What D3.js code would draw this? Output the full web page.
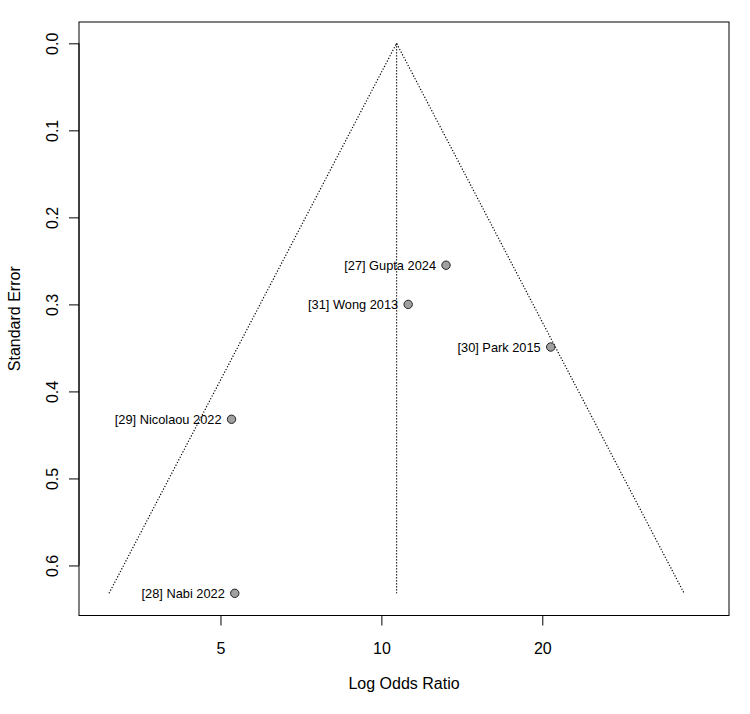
<!DOCTYPE html>
<html>
<head>
<meta charset="utf-8">
<script src="https://cdn.jsdelivr.net/npm/d3@7"></script>
<style>
  body { margin: 0; background: #fff; }
  text { font-family: "Liberation Sans", Arial, sans-serif; }
</style>
</head>
<body>
<div id="chart"></div>
<script>
// study labels, log odds ratios and standard errors
const studies = ["[27] Gupta 2024", "[31] Wong 2013", "[30] Park 2015", "[29] Nicolaou 2022", "[28] Nabi 2022"];
const logOR = [2.581, 2.418, 3.032, 1.657, 1.671];
const stdErr = [0.255, 0.300, 0.349, 0.432, 0.632];
const pooled = 2.368; // summary estimate (centre of funnel)

// axis ticks
const xTickOR = [5, 10, 20];
const yTicks = [0, 0.1, 0.2, 0.3, 0.4, 0.5, 0.6];

const width = 750, height = 714;
const box = { left: 79, right: 729, top: 22, bottom: 615.5 };

const svg = d3.select("#chart").append("svg")
  .attr("width", width)
  .attr("height", height);

const x = d3.scaleLinear().domain([1.0, 3.8]).range([box.left, box.right]);
const y = d3.scaleLinear().domain([-0.0245, 0.6575]).range([box.top, box.bottom]);

const maxSE = d3.max(stdErr);

// funnel lines (dotted)
const funnel = [
  [[pooled - 1.96 * maxSE, maxSE], [pooled, 0], [pooled + 1.96 * maxSE, maxSE]],
  [[pooled, 0], [pooled, maxSE]]
];
const line = d3.line().x(d => x(d[0])).y(d => y(d[1]));
svg.append("g").selectAll("path").data(funnel).join("path")
  .attr("d", line)
  .attr("fill", "none")
  .attr("stroke", "#000")
  .attr("stroke-width", 1.2)
  .attr("stroke-dasharray", "1.2,1.8");

// points
const pts = studies.map((s, i) => ({ label: s, yi: logOR[i], sei: stdErr[i] }));

svg.append("g").selectAll("circle").data(pts).join("circle")
  .attr("cx", d => x(d.yi))
  .attr("cy", d => y(d.sei))
  .attr("r", 4.2)
  .attr("fill", "#a0a0a0")
  .attr("stroke", "#222")
  .attr("stroke-width", 1);

svg.append("g").selectAll("text").data(pts).join("text")
  .attr("x", d => x(d.yi) - 10)
  .attr("y", d => y(d.sei))
  .attr("dy", "0.35em")
  .attr("text-anchor", "end")
  .attr("font-size", 12.8)
  .attr("fill", "#000")
  .text(d => d.label);

// x axis
const xAxis = svg.append("g")
  .attr("transform", `translate(0,${box.bottom})`)
  .call(d3.axisBottom(x)
    .tickValues(xTickOR.map(v => Math.log(v)))
    .tickFormat((d, i) => xTickOR[i])
    .tickSize(10)
    .tickSizeOuter(0));
xAxis.select(".domain").remove();
xAxis.selectAll("line").attr("stroke", "#000");
xAxis.selectAll("text")
  .attr("y", 38.5)
  .attr("dy", null)
  .attr("font-size", 16)
  .attr("font-family", "Liberation Sans, Arial, sans-serif")
  .attr("fill", "#000");

// y axis
const yAxis = svg.append("g")
  .attr("transform", `translate(${box.left},0)`)
  .call(d3.axisLeft(y)
    .tickValues(yTicks)
    .tickFormat(d3.format(".1f"))
    .tickSize(10)
    .tickSizeOuter(0));
yAxis.select(".domain").remove();
yAxis.selectAll("line").attr("stroke", "#000");
yAxis.selectAll("text")
  .attr("x", null)
  .attr("dy", null)
  .attr("text-anchor", "middle")
  .attr("transform", "translate(-21,0) rotate(-90)")
  .attr("font-size", 16)
  .attr("font-family", "Liberation Sans, Arial, sans-serif")
  .attr("fill", "#000");

// axis lines from first to last tick (R style)
svg.append("line")
  .attr("x1", x(Math.log(xTickOR[0]))).attr("x2", x(Math.log(xTickOR[xTickOR.length - 1])))
  .attr("y1", box.bottom).attr("y2", box.bottom)
  .attr("stroke", "#000");
svg.append("line")
  .attr("x1", box.left).attr("x2", box.left)
  .attr("y1", y(yTicks[0])).attr("y2", y(yTicks[yTicks.length - 1]))
  .attr("stroke", "#000");

// plot box
svg.append("rect")
  .attr("x", box.left)
  .attr("y", box.top)
  .attr("width", box.right - box.left)
  .attr("height", box.bottom - box.top)
  .attr("fill", "none")
  .attr("stroke", "#000")
  .attr("stroke-width", 1);

// axis titles
svg.append("text")
  .attr("x", (box.left + box.right) / 2)
  .attr("y", 689)
  .attr("text-anchor", "middle")
  .attr("font-size", 16)
  .text("Log Odds Ratio");

svg.append("text")
  .attr("transform", `translate(20,${(box.top + box.bottom) / 2}) rotate(-90)`)
  .attr("text-anchor", "middle")
  .attr("font-size", 16)
  .text("Standard Error");
</script>
</body>
</html>
